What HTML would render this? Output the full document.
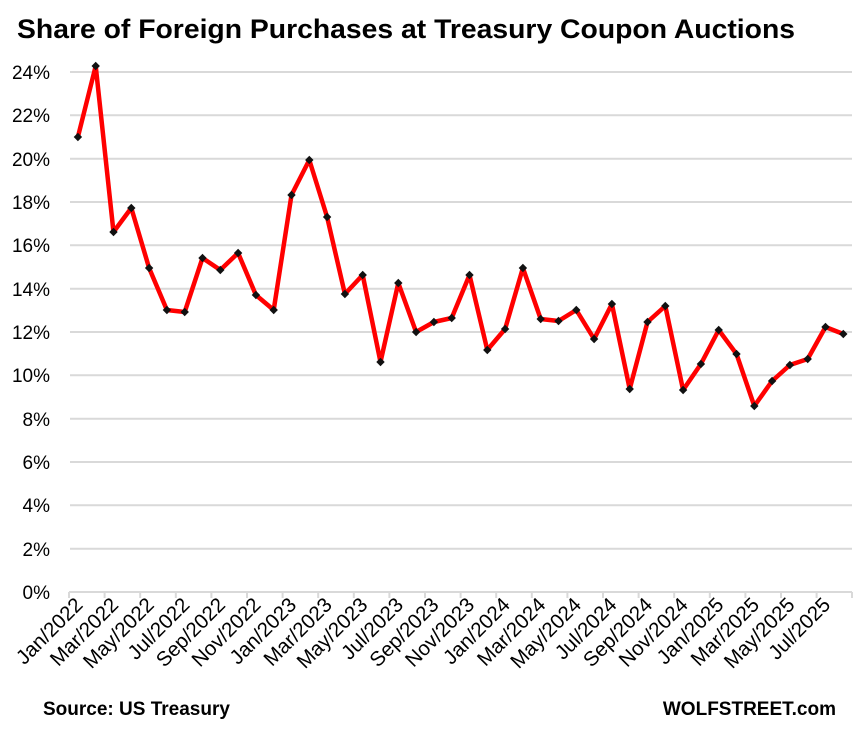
<!DOCTYPE html>
<html><head><meta charset="utf-8"><style>
html,body{margin:0;padding:0;background:#fff;}
svg{display:block;font-family:"Liberation Sans",sans-serif;}
</style></head><body>
<svg width="858" height="731" viewBox="0 0 858 731">
<defs>
<marker id="d" markerWidth="10" markerHeight="10" refX="5" refY="5" markerUnits="userSpaceOnUse">
<path d="M5 0.8 L9.2 5 L5 9.2 L0.8 5 Z" fill="#111"/>
</marker>
</defs>
<text x="17" y="38" font-size="27" font-weight="bold" fill="#000" textLength="778" lengthAdjust="spacingAndGlyphs">Share of Foreign Purchases at Treasury Coupon Auctions</text>
<g stroke="#d9d9d9" stroke-width="2">
<line x1="70" x2="852" y1="72" y2="72"/><line x1="70" x2="852" y1="115.3" y2="115.3"/>
<line x1="70" x2="852" y1="158.7" y2="158.7"/><line x1="70" x2="852" y1="202" y2="202"/>
<line x1="70" x2="852" y1="245.3" y2="245.3"/><line x1="70" x2="852" y1="288.7" y2="288.7"/>
<line x1="70" x2="852" y1="332" y2="332"/><line x1="70" x2="852" y1="375.3" y2="375.3"/>
<line x1="70" x2="852" y1="418.7" y2="418.7"/><line x1="70" x2="852" y1="462" y2="462"/>
<line x1="70" x2="852" y1="505.3" y2="505.3"/><line x1="70" x2="852" y1="548.7" y2="548.7"/>
<line x1="69" x2="852" y1="592" y2="592"/>
<path d="M69 592v6M104.6 592v6M140.2 592v6M175.8 592v6M211.4 592v6M247 592v6M282.6 592v6M318.2 592v6M353.8 592v6M389.4 592v6M425 592v6M460.6 592v6M496.2 592v6M531.8 592v6M567.4 592v6M603 592v6M638.6 592v6M674.2 592v6M709.8 592v6M745.4 592v6M781 592v6M816.6 592v6M852 592v6"/>
</g>
<g font-size="19" fill="#000" text-anchor="end">
<text x="50" y="79">24%</text><text x="50" y="122">22%</text><text x="50" y="166">20%</text>
<text x="50" y="209">18%</text><text x="50" y="252">16%</text><text x="50" y="296">14%</text>
<text x="50" y="339">12%</text><text x="50" y="382">10%</text><text x="50" y="426">8%</text>
<text x="50" y="469">6%</text><text x="50" y="512">4%</text><text x="50" y="556">2%</text>
<text x="50" y="599">0%</text>
</g>
<g font-size="20.5" fill="#000" text-anchor="end">
<text x="84" y="606" transform="rotate(-45 84 606)">Jan/2022</text>
<text x="119.6" y="606" transform="rotate(-45 119.6 606)">Mar/2022</text>
<text x="155.2" y="606" transform="rotate(-45 155.2 606)">May/2022</text>
<text x="190.8" y="606" transform="rotate(-45 190.8 606)">Jul/2022</text>
<text x="226.4" y="606" transform="rotate(-45 226.4 606)">Sep/2022</text>
<text x="262" y="606" transform="rotate(-45 262 606)">Nov/2022</text>
<text x="297.6" y="606" transform="rotate(-45 297.6 606)">Jan/2023</text>
<text x="333.2" y="606" transform="rotate(-45 333.2 606)">Mar/2023</text>
<text x="368.8" y="606" transform="rotate(-45 368.8 606)">May/2023</text>
<text x="404.4" y="606" transform="rotate(-45 404.4 606)">Jul/2023</text>
<text x="440" y="606" transform="rotate(-45 440 606)">Sep/2023</text>
<text x="475.6" y="606" transform="rotate(-45 475.6 606)">Nov/2023</text>
<text x="511.2" y="606" transform="rotate(-45 511.2 606)">Jan/2024</text>
<text x="546.8" y="606" transform="rotate(-45 546.8 606)">Mar/2024</text>
<text x="582.4" y="606" transform="rotate(-45 582.4 606)">May/2024</text>
<text x="618" y="606" transform="rotate(-45 618 606)">Jul/2024</text>
<text x="653.6" y="606" transform="rotate(-45 653.6 606)">Sep/2024</text>
<text x="689.2" y="606" transform="rotate(-45 689.2 606)">Nov/2024</text>
<text x="724.8" y="606" transform="rotate(-45 724.8 606)">Jan/2025</text>
<text x="760.4" y="606" transform="rotate(-45 760.4 606)">Mar/2025</text>
<text x="796" y="606" transform="rotate(-45 796 606)">May/2025</text>
<text x="831.6" y="606" transform="rotate(-45 831.6 606)">Jul/2025</text>
</g>
<polyline fill="none" stroke="#ff0000" stroke-width="4.5" stroke-linejoin="round" marker-start="url(#d)" marker-mid="url(#d)" marker-end="url(#d)" points="77.9,137 95.7,66 113.5,232 131.3,208 149.1,268 166.9,310 184.7,312 202.5,258 220.3,270 238.1,253 255.9,295 273.7,310 291.5,195 309.3,160 327.1,217 344.9,294 362.7,275 380.5,362 398.3,283 416.1,332 433.9,322 451.7,318 469.5,275 487.3,350 505.1,329 522.9,268 540.7,319 558.5,321 576.3,310 594.1,339 611.9,304 629.7,389 647.5,322 665.3,306 683.1,390 700.9,364 718.7,330 736.5,354 754.3,406 772.1,381 789.9,365 807.7,359 825.5,327 843.3,334"/>
<text x="43" y="715" font-size="19" font-weight="bold" fill="#000">Source: US Treasury</text>
<text x="836" y="715" font-size="19" font-weight="bold" fill="#000" text-anchor="end">WOLFSTREET.com</text>
</svg>
</body></html>
